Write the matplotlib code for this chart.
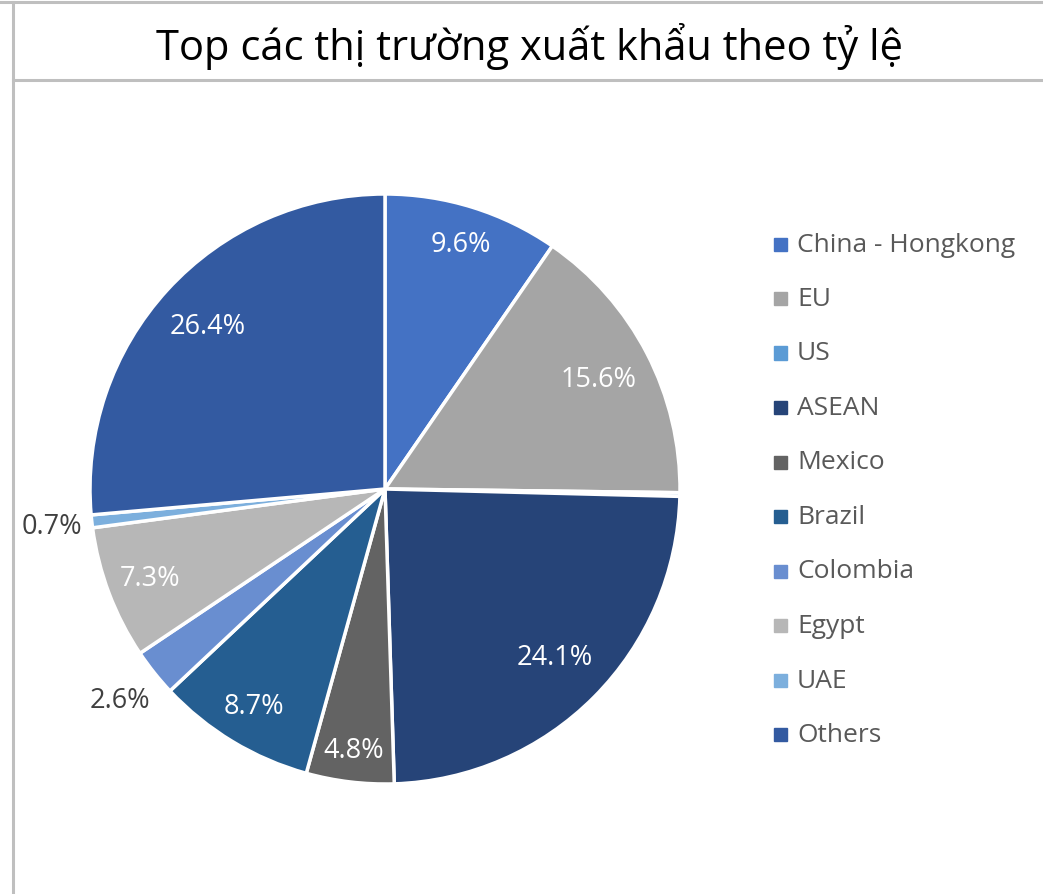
import matplotlib
matplotlib.use("Agg")
import matplotlib.pyplot as plt
from matplotlib.lines import Line2D
from matplotlib.patches import Rectangle
import numpy as np

labels = ['China - Hongkong', 'EU', 'US', 'ASEAN', 'Mexico', 'Brazil',
          'Colombia', 'Egypt', 'UAE', 'Others']
shares = [9.6, 15.6, 0.2, 24.1, 4.8, 8.7, 2.6, 7.3, 0.7, 26.4]
colors = ['#4472C4', '#A5A5A5', '#5B9BD5', '#264478', '#636363', '#255E91',
          '#698ED0', '#B7B7B7', '#7CAFDD', '#335AA1']
title = 'Top các thị trường xuất khẩu theo tỷ lệ'

# label placement per slice (radius fraction), None = hidden
label_dist = [0.87, 0.815, None, 0.81, 0.89, 0.86, 1.15, 0.85, 1.135, 0.817]

plt.rcParams['font.family'] = ['Open Sans', 'DejaVu Sans']
W, H = 1043, 895
fig = plt.figure(figsize=(W / 100, H / 100), dpi=100)

# frame lines
border = '#BFBFBF'
fig.add_artist(Line2D([0, 1], [1 - 3 / H, 1 - 3 / H], color=border, lw=2.2))
fig.add_artist(Line2D([12.5 / W, 12.5 / W], [0, 1 - 3 / H], color=border, lw=2.2))
fig.add_artist(Line2D([12.5 / W, 1], [1 - 81 / H, 1 - 81 / H], color=border, lw=2.2))

fig.text(529 / W, 1 - 46 / H, title, ha='center', va='center', fontsize=30, color='black')

cx, cy, r = 385, 490, 295
ax = fig.add_axes([(cx - r) / W, 1 - (cy + r) / H, 2 * r / W, 2 * r / H])
wedges, texts = ax.pie(shares, colors=colors, startangle=90, counterclock=False,
                       wedgeprops=dict(edgecolor='white', linewidth=2.5))
ax.set_xlim(-1, 1)
ax.set_ylim(-1, 1)
ax.set_aspect('equal')
ax.axis('off')

for w, v, d in zip(wedges, shares, label_dist):
    if d is None:
        continue
    ang = np.deg2rad((w.theta1 + w.theta2) / 2)
    col = 'white' if d < 1 else '#404040'
    ax.text(d * np.cos(ang), d * np.sin(ang), f'{v:.1f}%', ha='center', va='center',
            fontsize=19.5, color=col, clip_on=False)

# legend
lx, ly0, step = 780, 245, 54.5
for i, (lab, c) in enumerate(zip(labels, colors)):
    y = ly0 + i * step
    fig.add_artist(Rectangle(((lx - 6.5) / W, 1 - (y + 6.5) / H), 13 / W, 13 / H,
                             color=c, transform=fig.transFigure))
    fig.text(797 / W, 1 - y / H, lab, ha='left', va='center', fontsize=19, color='#595959')

fig.savefig('out.png', dpi=100)
